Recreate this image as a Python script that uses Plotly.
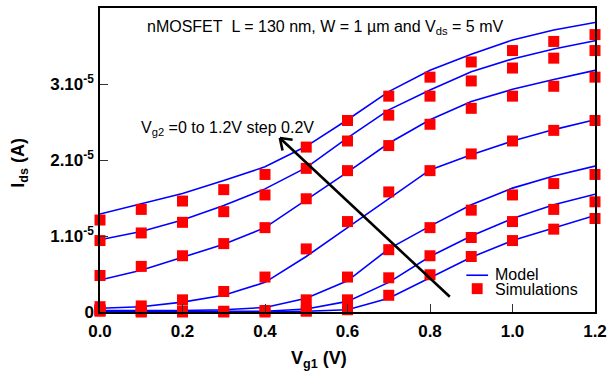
import math
import plotly.graph_objects as go

# ---------------- data ----------------
vg1 = [0.0, 0.1, 0.2, 0.3, 0.4, 0.5, 0.6, 0.7, 0.8, 0.9, 1.0, 1.1, 1.2]
vg2_labels = ["1.2", "1.0", "0.8", "0.6", "0.4", "0.2", "0.0"]

# simulations (units of 1e-5 A)
sim_12 = [1.21, 1.35, 1.46, 1.61, 1.81, 2.17, 2.52, 2.84, 3.09, 3.29, 3.44, 3.56, 3.65]
sim_10 = [0.94, 1.04, 1.18, 1.32, 1.54, 1.89, 2.25, 2.59, 2.84, 3.04, 3.21, 3.34, 3.44]
sim_08 = [0.48, 0.60, 0.74, 0.90, 1.11, 1.49, 1.86, 2.19, 2.47, 2.68, 2.84, 2.97, 3.09]
sim_06 = [0.07, 0.08, 0.16, 0.27, 0.46, 0.83, 1.19, 1.58, 1.86, 2.08, 2.25, 2.39, 2.52]
sim_04 = [0.03, 0.02, 0.01, 0.01, 0.02, 0.16, 0.46, 0.82, 1.11, 1.34, 1.54, 1.69, 1.81]
sim_02 = [0.02, 0.01, 0.01, 0.00, 0.00, 0.02, 0.16, 0.45, 0.74, 0.98, 1.19, 1.35, 1.45]
sim_00 = [0.01, 0.00, 0.00, -0.01, -0.01, 0.01, 0.03, 0.22, 0.49, 0.73, 0.94, 1.09, 1.23]

# model (units of 1e-5 A)
mod_12 = [1.29, 1.42, 1.56, 1.73, 1.91, 2.18, 2.53, 2.90, 3.18, 3.39, 3.58, 3.71, 3.81]
mod_10 = [0.95, 1.06, 1.21, 1.40, 1.62, 1.90, 2.29, 2.66, 2.92, 3.16, 3.33, 3.46, 3.57]
mod_08 = [0.42, 0.55, 0.72, 0.89, 1.11, 1.47, 1.84, 2.22, 2.53, 2.77, 2.93, 3.06, 3.18]
mod_06 = [0.05, 0.07, 0.13, 0.22, 0.39, 0.73, 1.11, 1.49, 1.87, 2.07, 2.25, 2.40, 2.53]
mod_04 = [0.02, 0.02, 0.02, 0.03, 0.06, 0.18, 0.41, 0.83, 1.13, 1.41, 1.63, 1.79, 1.92]
mod_02 = [0.01, 0.01, 0.01, 0.01, 0.01, 0.04, 0.14, 0.39, 0.73, 1.00, 1.23, 1.41, 1.55]
mod_00 = [0.00, 0.00, 0.00, 0.00, 0.00, 0.01, 0.03, 0.18, 0.45, 0.72, 0.94, 1.11, 1.27]

sims = [sim_12, sim_10, sim_08, sim_06, sim_04, sim_02, sim_00]
mods = [mod_12, mod_10, mod_08, mod_06, mod_04, mod_02, mod_00]
SCALE = 1e-5

ytick_vals = [0, 1e-5, 2e-5, 3e-5]
ytick_text = ["0", "1.10<sup>-5</sup>", "2.10<sup>-5</sup>", "3.10<sup>-5</sup>"]
xtick_vals = [0.0, 0.2, 0.4, 0.6, 0.8, 1.0, 1.2]
xtick_text = ["0.0", "0.2", "0.4", "0.6", "0.8", "1.0", "1.2"]

# arrow (annotation) end points in data coordinates
arrow_tail = (0.848, 0.20e-5)
arrow_tip = (0.436, 2.29e-5)

FONT = "Liberation Sans, Arial, sans-serif"
BLUE = "#0000FF"
RED = "#FF0000"

# layout geometry
W, H = 613, 381
ML, MR, MT, MB = 100, 13, 6, 69
PW, PH = W - ML - MR, H - MT - MB
XR = [0, 1.2]
YR = [0, 4.0e-5]
px_per_x = PW / (XR[1] - XR[0])
px_per_y = PH / (YR[1] - YR[0])

fig = go.Figure()

for lbl, m in zip(vg2_labels, mods):
    fig.add_trace(go.Scatter(
        x=vg1, y=[v * SCALE for v in m], mode="lines",
        line=dict(color=BLUE, width=1.6), name="Model Vg2=" + lbl,
        showlegend=False, cliponaxis=False))

for lbl, s in zip(vg2_labels, sims):
    fig.add_trace(go.Scatter(
        x=vg1, y=[v * SCALE for v in s], mode="markers",
        marker=dict(symbol="square", size=11, color=RED, line=dict(width=0)),
        name="Sim Vg2=" + lbl, showlegend=False, cliponaxis=False))

# arrow shaft + open head
shapes = []
shapes.append(dict(type="line", xref="x", yref="y",
                   x0=arrow_tail[0], y0=arrow_tail[1], x1=arrow_tip[0], y1=arrow_tip[1],
                   line=dict(color="black", width=2.6)))
dxp = (arrow_tail[0] - arrow_tip[0]) * px_per_x
dyp = -(arrow_tail[1] - arrow_tip[1]) * px_per_y  # screen down positive
L = math.hypot(dxp, dyp)
ux, uy = dxp / L, dyp / L
for ang in (35, -35):
    a = math.radians(ang)
    rx = math.cos(a) * ux - math.sin(a) * uy
    ry = math.sin(a) * ux + math.cos(a) * uy
    ex = arrow_tip[0] + rx * 13 / px_per_x
    ey = arrow_tip[1] - ry * 13 / px_per_y
    shapes.append(dict(type="line", xref="x", yref="y",
                       x0=arrow_tip[0], y0=arrow_tip[1], x1=ex, y1=ey,
                       line=dict(color="black", width=2.6)))

def px2paper(px, py):
    return (px - ML) / PW, (MT + PH - py) / PH

# legend replica
lx0, ly = px2paper(470, 275)
lx1, _ = px2paper(492, 275)
shapes.append(dict(type="line", xref="paper", yref="paper", x0=lx0, y0=ly, x1=lx1, y1=ly,
                   line=dict(color=BLUE, width=1.6)))
sx0, sy0 = px2paper(475.5, 294)
sx1, sy1 = px2paper(486.5, 283)
shapes.append(dict(type="rect", xref="paper", yref="paper", x0=sx0, y0=sy0, x1=sx1, y1=sy1,
                   fillcolor=RED, line=dict(width=0)))

annotations = []
def ann(text, px, py, size, xanchor="left", bold=False, angle=0):
    x, y = px2paper(px, py)
    annotations.append(dict(text=text, x=x, y=y, xref="paper", yref="paper",
                            xanchor=xanchor, yanchor="middle", showarrow=False,
                            textangle=angle, borderpad=0,
                            font=dict(family=FONT, size=size, color="black",
                                      weight="bold" if bold else "normal")))

ann("Model", 498, 274.5, 16)
ann("Simulations", 498, 289, 16)
ann("nMOSFET\u00a0 L = 130 nm, W = 1 µm and V<sub>ds</sub> = 5 mV", 146, 26, 16)
ann("V<sub>g2</sub> =0 to 1.2V step 0.2V", 140, 127, 16)
ann("V<sub>g1</sub> (V)", 321, 360, 18, xanchor="center", bold=True)
ann("I<sub>ds</sub> (A)", 19, 162, 18, xanchor="center", bold=True, angle=-90)

fig.update_layout(
    width=W, height=H,
    margin=dict(l=ML, r=MR, t=MT, b=MB),
    paper_bgcolor="white", plot_bgcolor="white",
    showlegend=False,
    shapes=shapes, annotations=annotations,
    xaxis=dict(range=XR, tickvals=xtick_vals, ticktext=xtick_text,
               ticks="inside", ticklen=8, tickwidth=1, tickcolor="#333",
               showline=True, mirror=True, linecolor="black", linewidth=1.5,
               showgrid=False, zeroline=False, ticklabelstandoff=3,
               tickfont=dict(family=FONT, size=17, color="black", weight="bold")),
    yaxis=dict(range=YR, tickvals=ytick_vals, ticktext=ytick_text,
               ticks="inside", ticklen=8, tickwidth=1, tickcolor="#333",
               showline=True, mirror=True, linecolor="black", linewidth=1.5,
               showgrid=False, zeroline=False, ticklabelstandoff=1,
               tickfont=dict(family=FONT, size=17, color="black", weight="bold")),
)

fig.write_html("out.html")
